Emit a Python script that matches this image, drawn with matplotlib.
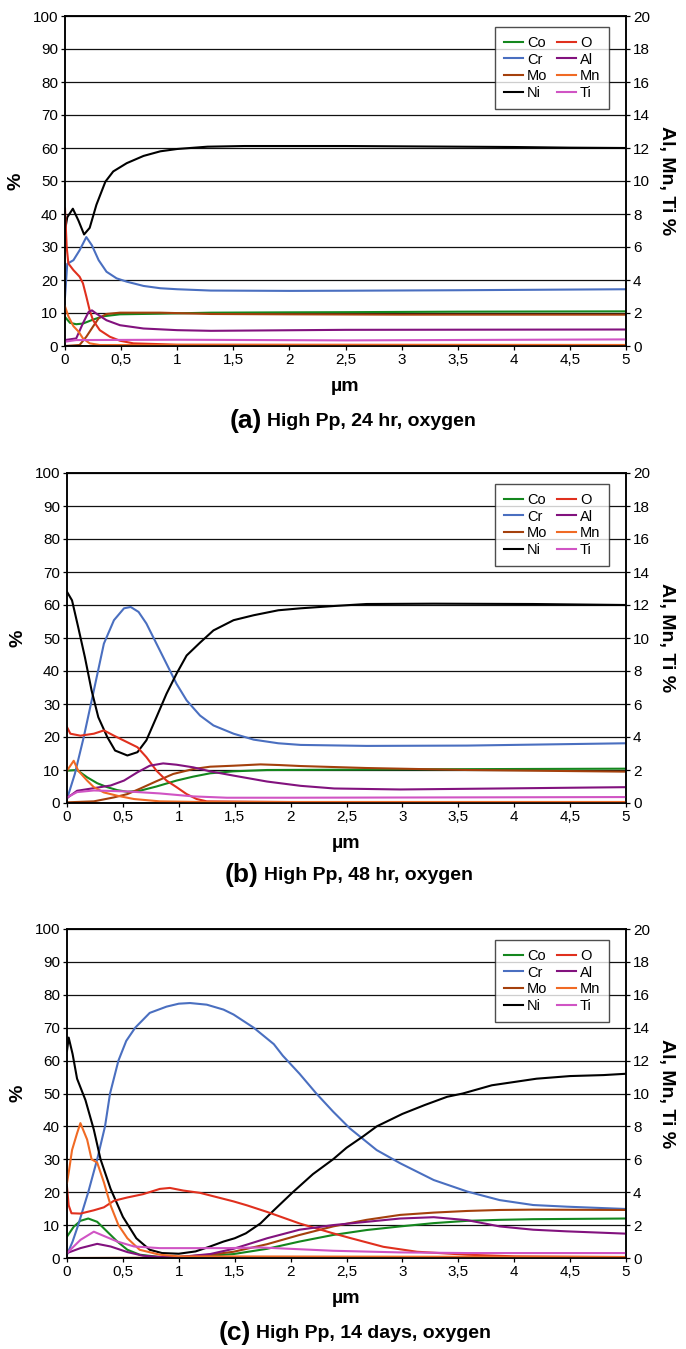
import matplotlib
matplotlib.use("Agg")
import matplotlib.pyplot as plt
from matplotlib.ticker import FixedLocator

plt.rcParams['font.family'] = ['Liberation Sans', 'DejaVu Sans']

# x in µm, y in %  (Co, Cr, Mo, Ni, O on the left axis; Al, Mn, Ti on the right axis)
# ---- (a) High Pp, 24 hr
A_CO = [(0, 8.8), (0.045, 7), (0.1, 6.6), (0.16, 6.8), (0.25, 8), (0.34, 9), (0.49, 9.6), (0.85, 9.8),
        (1.3, 10.1), (2, 10.2), (2.5, 10.25), (3.5, 10.4), (5, 10.5)]
A_CR = [(0, 14.8), (0.02, 24.9), (0.075, 26), (0.13, 29), (0.19, 33), (0.24, 30.5), (0.3, 26), (0.37, 22.5),
        (0.46, 20.5), (0.55, 19.5), (0.7, 18.2), (0.85, 17.5), (1, 17.2), (1.3, 16.8), (2, 16.7), (2.5, 16.75),
        (3.5, 16.9), (4, 17), (5, 17.2)]
A_MO = [(0, 0), (0.13, 0.3), (0.19, 2.8), (0.25, 5.9), (0.3, 8.4), (0.37, 9.7), (0.49, 10.1), (0.85, 10.1),
        (1.3, 9.7), (2, 9.6), (3, 9.5), (4, 9.5), (5, 9.5)]
A_NI = [(0, 35), (0.02, 39), (0.07, 41.6), (0.12, 38), (0.17, 33.8), (0.22, 35.8), (0.28, 42.8), (0.36, 49.8),
        (0.43, 52.9), (0.55, 55.4), (0.7, 57.6), (0.85, 59), (1, 59.7), (1.27, 60.4), (1.6, 60.6), (2, 60.6),
        (2.5, 60.6), (3, 60.5), (3.5, 60.4), (4, 60.3), (4.5, 60.1), (5, 60)]
A_O = [(0, 41.7), (0.015, 30), (0.03, 25), (0.075, 23), (0.13, 21), (0.16, 19), (0.19, 15), (0.22, 10.8),
       (0.25, 7.8), (0.31, 4.8), (0.4, 2.8), (0.49, 1.6), (0.61, 0.8), (1, 0.4), (5, 0.3)]
A_AL = [(0, 0.36), (0.1, 0.46), (0.16, 1.38), (0.21, 2.06), (0.24, 2.16), (0.28, 1.96), (0.37, 1.56),
        (0.49, 1.26), (0.7, 1.06), (1, 0.96), (1.3, 0.92), (2.5, 0.98), (5, 1.0)]
A_MN = [(0, 2.4), (0.03, 1.8), (0.075, 1.2), (0.12, 0.88), (0.16, 0.46), (0.22, 0.16), (0.31, 0.06), (5, 0.06)]
A_TI = [(0, 0.26), (0.1, 0.36), (1, 0.38), (2.5, 0.34), (5, 0.4)]

# ---- (b) High Pp, 48 hr
B_CO = [(0, 9.8), (0.09, 10), (0.18, 7.8), (0.27, 6), (0.36, 4.8), (0.45, 3.9), (0.54, 3.4), (0.65, 3.7),
        (0.8, 5), (0.98, 6.8), (1.13, 8), (1.28, 9), (1.49, 9.6), (1.79, 10), (2.5, 10.1), (3, 10.2),
        (4, 10.3), (5, 10.4)]
B_CR = [(0, 1.2), (0.07, 8.8), (0.15, 20), (0.24, 34.1), (0.33, 48.3), (0.42, 55.4), (0.51, 59), (0.57, 59.4),
        (0.64, 57.9), (0.71, 54.4), (0.8, 48.3), (0.89, 42.2), (0.98, 36.1), (1.07, 31.1), (1.19, 26.5),
        (1.31, 23.5), (1.49, 21), (1.67, 19.2), (1.89, 18.1), (2.09, 17.6), (2.68, 17.3), (3.58, 17.4), (5, 18.1)]
B_MO = [(0, 0.2), (0.24, 0.5), (0.42, 1.7), (0.54, 2.7), (0.65, 4.3), (0.8, 6.6), (0.95, 8.8), (1.13, 10.3),
        (1.28, 11), (1.49, 11.3), (1.73, 11.7), (1.9, 11.5), (2.09, 11.2), (2.68, 10.6), (3.58, 10), (5, 9.5)]
B_NI = [(0, 64), (0.045, 61.4), (0.1, 53.3), (0.16, 44.2), (0.22, 34.1), (0.28, 26), (0.36, 20), (0.43, 15.9),
        (0.54, 14.4), (0.63, 15.4), (0.71, 19), (0.8, 26), (0.89, 33.1), (0.98, 39.2), (1.07, 44.7),
        (1.19, 48.6), (1.31, 52.3), (1.49, 55.4), (1.67, 56.9), (1.89, 58.4), (2.09, 59), (2.39, 59.7),
        (2.68, 60.3), (3.28, 60.4), (4.17, 60.3), (5, 60)]
B_O = [(0, 23), (0.03, 21), (0.12, 20.4), (0.24, 21), (0.33, 22), (0.42, 20.4), (0.54, 18.4), (0.63, 16.9),
       (0.71, 13.9), (0.8, 9.8), (0.89, 6.8), (0.98, 4.8), (1.07, 2.7), (1.16, 1.2), (1.25, 0.5), (2, 0.3),
       (5, 0.3)]
B_AL = [(0, 0.3), (0.09, 0.74), (0.24, 0.9), (0.39, 1.06), (0.51, 1.36), (0.63, 1.86), (0.74, 2.26),
        (0.86, 2.4), (0.98, 2.32), (1.13, 2.16), (1.28, 1.92), (1.49, 1.66), (1.79, 1.3), (2.09, 1.04),
        (2.39, 0.88), (2.98, 0.82), (3.87, 0.88), (5, 0.96)]
B_MN = [(0, 1.96), (0.06, 2.56), (0.1, 1.96), (0.18, 1.36), (0.24, 0.96), (0.33, 0.64), (0.45, 0.44),
        (0.6, 0.24), (0.83, 0.1), (1.2, 0.06), (5, 0.06)]
B_TI = [(0, 0.34), (0.09, 0.66), (0.24, 0.76), (0.54, 0.7), (0.83, 0.58), (1.13, 0.4), (1.43, 0.32),
        (2, 0.32), (5, 0.36)]

# ---- (c) High Pp, 14 days
C_CO = [(0, 6.5), (0.06, 9.5), (0.12, 11.3), (0.19, 12), (0.27, 11), (0.36, 8), (0.45, 5), (0.54, 2.5),
        (0.65, 1), (0.83, 0.3), (1, 0.2), (1.28, 0.7), (1.49, 1.2), (1.79, 2.8), (2.08, 5), (2.38, 7),
        (2.68, 8.5), (2.98, 9.6), (3.28, 10.6), (3.58, 11.3), (3.87, 11.6), (4.17, 11.8), (5, 12)]
C_CR = [(0, 1), (0.05, 5), (0.1, 10), (0.19, 20), (0.27, 30), (0.34, 40), (0.385, 50), (0.46, 60), (0.53, 66),
        (0.61, 70), (0.74, 74.5), (0.89, 76.4), (1, 77.3), (1.1, 77.5), (1.25, 77), (1.4, 75.5), (1.49, 74),
        (1.67, 70), (1.85, 65), (1.93, 61.5), (2.08, 56), (2.23, 50), (2.38, 44.5), (2.53, 39.4), (2.77, 32.8),
        (2.98, 28.8), (3.28, 23.7), (3.58, 20.2), (3.87, 17.6), (4.17, 16.1), (4.47, 15.6), (5, 14.9)]
C_MO = [(0, 0), (0.9, 0.1), (1, 0.3), (1.28, 1), (1.49, 1.9), (1.79, 4.2), (2.08, 7), (2.38, 9.6),
        (2.68, 11.6), (2.98, 13.1), (3.28, 13.8), (3.58, 14.3), (3.87, 14.6), (4.17, 14.7), (5, 14.6)]
C_NI = [(0, 63), (0.015, 67), (0.05, 62), (0.09, 54.5), (0.165, 48), (0.24, 39), (0.3, 30), (0.39, 21),
        (0.5, 12.5), (0.62, 6), (0.74, 2.5), (0.85, 1.5), (1, 1.3), (1.15, 2), (1.28, 3.5), (1.4, 5), (1.5, 6),
        (1.6, 7.5), (1.73, 10.5), (1.85, 14.5), (2.02, 20), (2.2, 25.5), (2.38, 30), (2.5, 33.5), (2.65, 37),
        (2.77, 40), (3, 43.8), (3.2, 46.5), (3.4, 49), (3.54, 50), (3.8, 52.5), (4, 53.5), (4.2, 54.5),
        (4.5, 55.3), (4.8, 55.6), (5, 56)]
C_O = [(0, 21.6), (0.015, 16), (0.04, 13.6), (0.12, 13.5), (0.24, 14.5), (0.33, 15.4), (0.42, 17.4),
       (0.54, 18.4), (0.68, 19.4), (0.83, 21), (0.92, 21.3), (1.04, 20.5), (1.19, 19.8), (1.34, 18.5),
       (1.49, 17.2), (1.61, 16), (1.79, 14), (2.08, 10.5), (2.17, 9.6), (2.38, 7.5), (2.53, 6.1), (2.83, 3.4),
       (3.13, 1.9), (3.58, 1), (4, 0.5), (5, 0.3)]
C_AL = [(0, 0.3), (0.12, 0.6), (0.27, 0.86), (0.39, 0.7), (0.54, 0.36), (0.68, 0.14), (0.83, 0.06),
        (1, 0.06), (1.28, 0.24), (1.49, 0.56), (1.79, 1.2), (2.08, 1.72), (2.38, 2.0), (2.68, 2.2),
        (2.98, 2.4), (3.28, 2.48), (3.58, 2.3), (3.87, 1.92), (4.17, 1.72), (4.47, 1.62), (5, 1.48)]
C_MN = [(0, 4.56), (0.02, 5.4), (0.045, 6.56), (0.09, 7.58), (0.12, 8.2), (0.18, 7.2), (0.22, 6.0),
        (0.27, 5.8), (0.33, 4.6), (0.39, 3.2), (0.46, 2.0), (0.54, 1.2), (0.65, 0.5), (0.83, 0.2), (1, 0.1),
        (5, 0.06)]
C_TI = [(0, 0.3), (0.12, 1.1), (0.24, 1.6), (0.33, 1.34), (0.45, 1.0), (0.6, 0.7), (0.83, 0.6), (1.43, 0.6),
        (1.73, 0.64), (2.38, 0.44), (2.98, 0.34), (3.58, 0.3), (5, 0.3)]

LEFT_NAMES = ['Co', 'Cr', 'Mo', 'Ni', 'O']
RIGHT_NAMES = ['Al', 'Mn', 'Ti']
COLORS = {'Co': '#14871e', 'Cr': '#4a6fc0', 'Mo': '#a4400c', 'Ni': '#000000',
          'O': '#e0301e', 'Al': '#82127e', 'Mn': '#f06a24', 'Ti': '#d054c4'}
LEGEND_ORDER = ['Co', 'Cr', 'Mo', 'Ni', 'O', 'Al', 'Mn', 'Ti']
X_TICKS = [0, 0.5, 1, 1.5, 2, 2.5, 3, 3.5, 4, 4.5, 5]

PANELS = [
    ('(a)', 'High Pp, 24 hr, oxygen', dict(Co=A_CO, Cr=A_CR, Mo=A_MO, Ni=A_NI, O=A_O, Al=A_AL, Mn=A_MN, Ti=A_TI)),
    ('(b)', 'High Pp, 48 hr, oxygen', dict(Co=B_CO, Cr=B_CR, Mo=B_MO, Ni=B_NI, O=B_O, Al=B_AL, Mn=B_MN, Ti=B_TI)),
    ('(c)', 'High Pp, 14 days, oxygen', dict(Co=C_CO, Cr=C_CR, Mo=C_MO, Ni=C_NI, O=C_O, Al=C_AL, Mn=C_MN, Ti=C_TI)),
]

W, H = 686, 1349
# axes boxes in pixels: left, top, right, bottom
BOXES = [(65, 16, 626, 346), (67, 473, 626, 803), (67, 929, 626, 1258)]
CAPTION_Y = [421, 875, 1333]
CAPTION_X = [262, 259, 251]


def draw_panel(fig, box, tag, caption, series, cap_x, cap_y):
    l, t, r, b = box
    ax = fig.add_axes([l / W, 1 - b / H, (r - l) / W, (b - t) / H])
    ax2 = ax.twinx()
    handles = {}
    for name in LEFT_NAMES:
        xs = [p[0] for p in series[name]]
        ys = [p[1] for p in series[name]]
        handles[name], = ax.plot(xs, ys, color=COLORS[name], lw=1.5, label=name)
    for name in RIGHT_NAMES:
        xs = [p[0] for p in series[name]]
        ys = [p[1] for p in series[name]]
        handles[name], = ax2.plot(xs, ys, color=COLORS[name], lw=1.5, label=name)

    ax.set_xlim(0, 5)
    ax.set_ylim(0, 100)
    ax2.set_ylim(0, 20)
    ax.set_yticks(range(0, 101, 10))
    ax2.set_yticks(range(0, 21, 2))
    ax.xaxis.set_major_locator(FixedLocator(X_TICKS))
    ax.set_xticklabels([('%g' % v).replace('.', ',') for v in X_TICKS])
    ax.yaxis.grid(True, color='#111111', lw=0.9)
    ax.set_axisbelow(True)
    for a in (ax, ax2):
        a.tick_params(labelsize=11, length=3, width=0.9, direction='out', pad=2)
        for s in a.spines.values():
            s.set_linewidth(1.1)
    ax.set_ylabel('%', fontsize=14, fontweight='bold', labelpad=6)
    ax2.set_ylabel('Al, Mn, Ti %', fontsize=14, fontweight='bold', rotation=270, labelpad=18)
    ax.set_xlabel('µm', fontsize=14, fontweight='bold', labelpad=8)

    leg = ax2.legend([handles[n] for n in LEGEND_ORDER], LEGEND_ORDER, ncol=2, loc='upper right',
                     bbox_to_anchor=(0.97, 0.967), borderaxespad=0, fontsize=10.5, frameon=True,
                     fancybox=False, edgecolor='#222222', handlelength=1.35, handletextpad=0.25,
                     columnspacing=0.65, labelspacing=0.2, borderpad=0.6)
    leg.get_frame().set_linewidth(1.0)

    fig.text(cap_x / W, 1 - cap_y / H, tag, ha='right', va='center', fontsize=19, fontweight='bold')
    fig.text((cap_x + 5) / W, 1 - cap_y / H, caption, ha='left', va='center', fontsize=14, fontweight='bold')


fig = plt.figure(figsize=(W / 100, H / 100), dpi=100)
for (tag, caption, series), box, cy, cx in zip(PANELS, BOXES, CAPTION_Y, CAPTION_X):
    draw_panel(fig, box, tag, caption, series, cx, cy)

fig.savefig('out.png', dpi=100, facecolor='white')
